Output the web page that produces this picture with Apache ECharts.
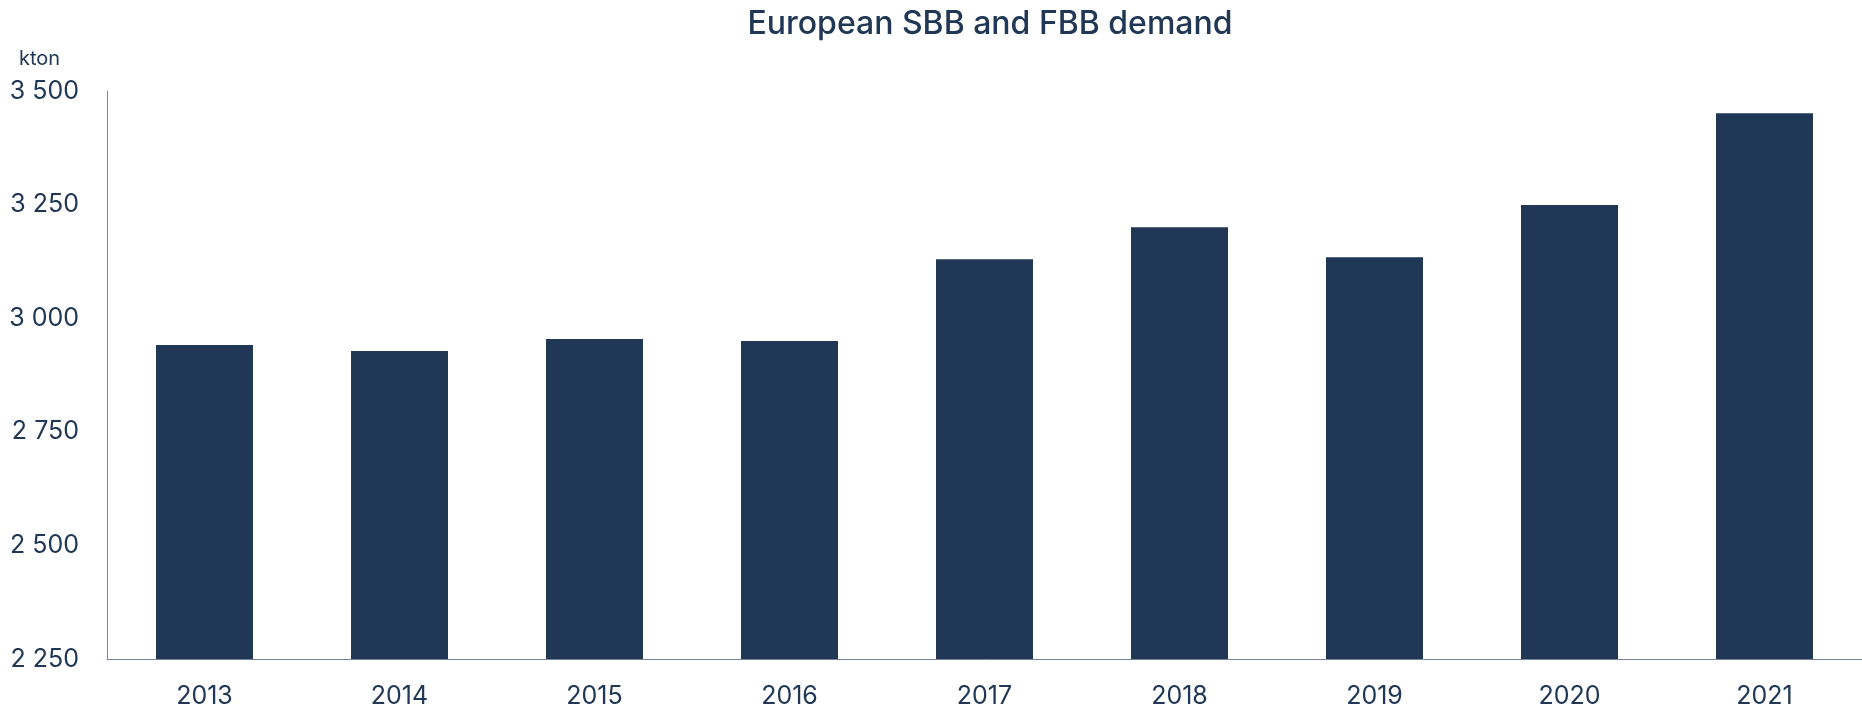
<!DOCTYPE html>
<html>
<head>
<meta charset="utf-8">
<title>European SBB and FBB demand</title>
<script src="https://cdn.jsdelivr.net/npm/echarts@6/dist/echarts.min.js"></script>
<style>
  html, body { margin: 0; padding: 0; background: #fff; }
  #chart { width: 1862px; height: 711px; }
</style>
</head>
<body>
<div id="chart"></div>
<script>
// data (kton)
const years = ["2013", "2014", "2015", "2016", "2017", "2018", "2019", "2020", "2021"];
const demand = [2941, 2928, 2954, 2950, 3130, 3200, 3134, 3249, 3451];
const yTicks = { min: 2250, max: 3500, step: 250 };

const navy = "#203855";
const axisGrey = "#76849a";
const font = "Inter, Roboto, 'Noto Sans', sans-serif";

// "3500" -> "3 500"
function spaced(v) {
  return String(v).replace(/\B(?=(\d{3})+(?!\d))/g, " ");
}

const chart = echarts.init(document.getElementById("chart"), null, { renderer: "canvas" });

chart.setOption({
  animation: false,
  title: [
    {
      text: "European SBB and FBB demand",
      left: 985,
      top: 3,
      textAlign: "center",
      textStyle: {
        color: navy,
        fontFamily: font,
        fontWeight: 500,
        fontSize: 32
      }
    },
    {
      text: "kton",
      left: 14,
      top: 44,
      textStyle: { color: navy, fontFamily: font, fontWeight: "normal", fontSize: 20 }
    }
  ],
  // plot band runs a little past the right edge, like the source
  grid: { left: 107, top: 91, height: 568, width: 1767 },
  xAxis: {
    type: "category",
    data: years,
    axisLine: { show: true, lineStyle: { color: axisGrey, width: 1 } },
    axisTick: { show: false },
    axisLabel: { color: navy, fontFamily: font, fontSize: 25, margin: 25 }
  },
  yAxis: {
    type: "value",
    min: yTicks.min,
    max: yTicks.max,
    interval: yTicks.step,
    axisLine: { show: true, lineStyle: { color: axisGrey, width: 1 } },
    axisTick: { show: false },
    splitLine: { show: false },
    axisLabel: {
      color: navy,
      fontFamily: font,
      fontSize: 25,
      margin: 28,
      formatter: spaced
    }
  },
  series: [
    {
      name: "Demand",
      type: "bar",
      data: demand,
      barWidth: 97,
      itemStyle: { color: navy }
    }
  ]
});
</script>
</body>
</html>
